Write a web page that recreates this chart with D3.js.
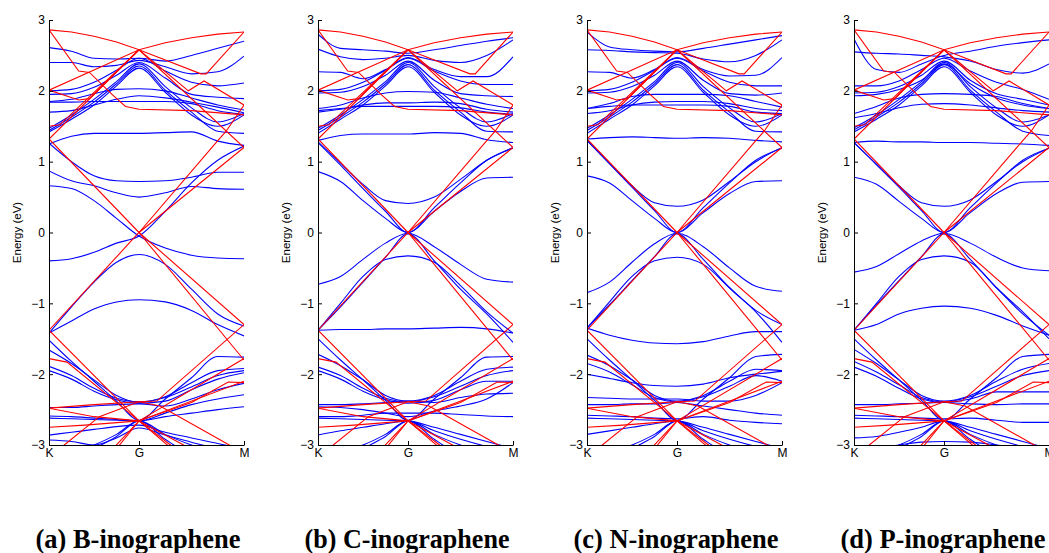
<!DOCTYPE html>
<html lang="en">
<head>
<meta charset="UTF-8">
<title>Inographene band structures</title>
<script src="https://d3js.org/d3.v7.min.js"></script>
<style>
    body { margin: 0; background: #fff; }
    .tick text { font-family: "Liberation Sans", Arial, sans-serif; font-size: 12px; fill: #000; }
    .ylabel { font-family: "Liberation Sans", Arial, sans-serif; font-size: 11.5px; }
    .caption { font-family: "Liberation Serif", "Times New Roman", serif; font-weight: bold; font-size: 27px; }
</style>
</head>
<body>
<svg id="chart" width="1049" height="553"></svg>
<script>
// k path: K = 0, G = 1, M = 2 ; every blue band is sampled on this grid
var kGrid = [0, 0.25, 0.5, 0.75, 1, 1.25, 1.5, 1.75, 2];
var kLabels = ["K", "G", "M"];
var yTicks = [-3, -2, -1, 0, 1, 2, 3];
var captions = ["(a) B-inographene", "(b) C-inographene", "(c) N-inographene", "(d) P-inographene"];

// graphene reference bands (red), [k, E] vertices, same in every panel
var redBands = [
    [[0,2.86],[0.25,2.83],[0.5,2.77],[0.75,2.69],[1,2.58],[1.25,2.68],[1.5,2.75],[1.75,2.80],[2,2.83]],
    [[0,2.86],[0.33,2.28],[0.45,2.26],[0.7,1.95],[0.85,1.78],[1,1.74],[1.5,1.72],[2,1.66]],
    [[0,2.01],[1,2.58],[1.59,2.24],[1.64,2.24],[2,2.83]],
    [[0,2.01],[0.33,1.87],[0.45,1.89],[1,2.58],[1.47,2.0],[1.62,2.14],[2,1.8]],
    [[0,1.5],[0.12,1.52],[1,2.58],[2,1.2]],
    [[0,1.32],[1,2.58]],
    [[0,1.32],[1,0],[2,-1.3]],
    [[0,-1.38],[1,0],[2,1.2]],
    [[1,0],[1.74,1.28],[1.83,1.43],[2,1.8]],
    [[1,0],[2,-1.8]],
    [[0,-1.38],[1,-2.66],[2,-1.78]],
    [[0,-1.78],[0.2,-1.83],[1,-2.66],[2,-2.1]],
    [[0,-2.48],[0.5,-2.43],[1,-2.39],[1.17,-2.38],[2,-1.3]],
    [[0,-2.48],[0.5,-2.6],[1,-2.66],[1.5,-2.4],[1.85,-2.11],[2,-2.12]],
    [[0,-2.75],[0.4,-2.72],[1,-2.66],[1.3,-3.0],[1.4,-3.15]],
    [[0,-3.2],[0.17,-3.0],[0.56,-2.6],[1,-2.39],[1.2,-2.45],[1.86,-3.0],[2,-3.1]],
    [[0.6,-3.2],[1,-2.66],[1.55,-3.1]],
    [[0.72,-3.1],[1,-2.66],[1.35,-3.1]]
];

// inographene bands (blue), energies on kGrid
var bandsB = [
    [2.61, 2.56, 2.46, 2.45, 2.46, 2.42, 2.50, 2.60, 2.70],
    [2.40, 2.40, 2.34, 2.36, 2.43, 2.34, 2.24, 2.27, 2.49],
    [2.00, 2.02, 2.12, 2.29, 2.46, 2.28, 2.12, 2.07, 2.11],
    [1.95, 1.96, 2.05, 2.22, 2.40, 2.18, 1.95, 1.91, 1.89],
    [1.85, 1.88, 1.96, 2.02, 2.03, 2.00, 1.90, 1.80, 1.73],
    [1.70, 1.72, 1.80, 1.88, 1.93, 1.90, 1.84, 1.77, 1.69],
    [1.84, 1.84, 1.85, 1.85, 1.85, 1.85, 1.82, 1.72, 1.67],
    [1.47, 1.66, 1.88, 2.13, 2.38, 2.06, 1.76, 1.56, 1.68],
    [1.44, 1.63, 1.84, 2.10, 2.35, 2.01, 1.70, 1.43, 1.40],
    [1.42, 1.60, 1.80, 2.07, 2.32, 1.98, 1.66, 1.50, 1.66],
    [1.25, 1.36, 1.40, 1.40, 1.40, 1.41, 1.42, 1.29, 1.23],
    [1.26, 1.00, 0.80, 0.73, 0.72, 0.73, 0.78, 0.85, 0.85],
    [0.87, 0.73, 0.66, 0.56, 0.50, 0.56, 0.65, 0.62, 0.61],
    [0.66, 0.62, 0.45, 0.20, -0.05, -0.22, -0.32, -0.36, -0.37],
    [-0.40, -0.37, -0.28, -0.15, -0.05, 0.30, 0.70, 1.02, 1.22],
    [-1.42, -1.05, -0.70, -0.42, -0.31, -0.45, -0.80, -1.15, -1.32],
    [-1.42, -1.25, -1.08, -0.98, -0.95, -0.98, -1.10, -1.30, -1.46],
    [-1.52, -1.82, -2.10, -2.38, -2.65, -2.35, -2.05, -1.75, -1.76],
    [-1.66, -1.85, -2.08, -2.30, -2.40, -2.32, -2.12, -1.95, -1.92],
    [-1.89, -2.02, -2.20, -2.34, -2.39, -2.33, -2.18, -2.02, -1.95],
    [-1.95, -2.07, -2.24, -2.36, -2.41, -2.38, -2.22, -2.07, -1.98],
    [-2.47, -2.47, -2.45, -2.43, -2.42, -2.45, -2.35, -2.22, -2.13],
    [-2.59, -2.60, -2.62, -2.64, -2.66, -2.55, -2.43, -2.35, -2.29],
    [-2.62, -2.63, -2.64, -2.65, -2.66, -2.60, -2.55, -2.50, -2.46],
    [-2.86, -2.82, -2.78, -2.74, -2.72, -2.82, -2.90, -2.98, -3.05],
    [-2.93, -2.95, -3.00, -2.90, -2.76, -2.86, -2.96, -3.05, -3.10],
    [-3.20, -3.10, -3.00, -2.85, -2.66, -2.85, -3.00, -3.10, -3.20],
    [-3.40, -3.20, -3.05, -2.88, -2.66, -2.92, -3.15, -3.30, -3.40]
];

var bandsC = [
    [2.80, 2.60, 2.58, 2.56, 2.53, 2.58, 2.64, 2.70, 2.75],
    [2.59, 2.48, 2.44, 2.46, 2.50, 2.43, 2.40, 2.50, 2.72],
    [2.27, 2.26, 2.17, 2.30, 2.47, 2.30, 2.20, 2.20, 2.48],
    [2.00, 2.02, 2.12, 2.29, 2.46, 2.28, 2.14, 2.09, 2.09],
    [1.97, 1.98, 2.06, 2.22, 2.42, 2.15, 1.96, 1.93, 1.92],
    [1.75, 1.80, 1.90, 1.97, 1.99, 1.98, 1.90, 1.81, 1.75],
    [1.70, 1.74, 1.80, 1.83, 1.83, 1.84, 1.82, 1.74, 1.70],
    [1.72, 1.75, 1.78, 1.78, 1.78, 1.78, 1.76, 1.70, 1.67],
    [1.47, 1.66, 1.88, 2.13, 2.40, 2.06, 1.76, 1.56, 1.68],
    [1.44, 1.63, 1.84, 2.10, 2.37, 2.01, 1.70, 1.43, 1.42],
    [1.40, 1.60, 1.80, 2.07, 2.34, 1.98, 1.66, 1.50, 1.66],
    [1.30, 1.37, 1.39, 1.39, 1.39, 1.41, 1.40, 1.31, 1.27],
    [1.28, 0.98, 0.68, 0.45, 0.41, 0.50, 0.75, 1.02, 1.20],
    [0.86, 0.72, 0.45, 0.20, 0.00, 0.30, 0.58, 0.77, 0.78],
    [1.27, 0.95, 0.62, 0.30, 0.00, 0.35, 0.70, 1.02, 1.19],
    [-0.73, -0.62, -0.38, -0.15, -0.01, -0.20, -0.45, -0.66, -0.70],
    [-1.38, -1.00, -0.62, -0.38, -0.33, -0.42, -0.75, -1.12, -1.42],
    [-1.38, -1.37, -1.37, -1.36, -1.36, -1.35, -1.34, -1.36, -1.42],
    [-1.38, -1.05, -0.70, -0.35, -0.02, -0.40, -0.80, -1.15, -1.55],
    [-1.50, -1.80, -2.08, -2.37, -2.65, -2.35, -2.05, -1.76, -1.75],
    [-1.72, -1.88, -2.08, -2.30, -2.38, -2.30, -2.10, -1.93, -1.90],
    [-1.90, -2.02, -2.20, -2.34, -2.39, -2.32, -2.17, -2.02, -1.95],
    [-1.95, -2.07, -2.24, -2.36, -2.41, -2.37, -2.22, -2.10, -2.10],
    [-2.43, -2.43, -2.42, -2.40, -2.38, -2.40, -2.33, -2.28, -2.27],
    [-2.46, -2.47, -2.50, -2.55, -2.60, -2.52, -2.45, -2.35, -2.12],
    [-2.60, -2.60, -2.58, -2.55, -2.55, -2.55, -2.57, -2.59, -2.60],
    [-2.62, -2.63, -2.64, -2.65, -2.66, -2.75, -2.85, -2.95, -3.05],
    [-2.86, -2.80, -2.75, -2.70, -2.66, -2.80, -2.92, -3.02, -3.10],
    [-3.20, -3.10, -3.00, -2.85, -2.66, -2.85, -3.00, -3.10, -3.20],
    [-3.40, -3.20, -3.05, -2.88, -2.66, -2.92, -3.15, -3.30, -3.40]
];

var bandsN = [
    [2.83, 2.62, 2.58, 2.56, 2.55, 2.60, 2.66, 2.72, 2.78],
    [2.58, 2.57, 2.55, 2.54, 2.53, 2.45, 2.41, 2.50, 2.72],
    [2.27, 2.26, 2.18, 2.30, 2.47, 2.30, 2.21, 2.22, 2.47],
    [2.00, 2.02, 2.12, 2.29, 2.46, 2.28, 2.12, 2.07, 2.07],
    [1.97, 1.98, 2.06, 2.22, 2.42, 2.15, 1.96, 1.94, 1.97],
    [1.75, 1.82, 1.92, 1.95, 1.95, 1.95, 1.93, 1.85, 1.77],
    [1.68, 1.72, 1.80, 1.84, 1.85, 1.85, 1.82, 1.75, 1.72],
    [1.75, 1.78, 1.80, 1.80, 1.80, 1.80, 1.78, 1.70, 1.68],
    [1.47, 1.66, 1.88, 2.13, 2.40, 2.06, 1.76, 1.56, 1.68],
    [1.44, 1.63, 1.84, 2.10, 2.37, 2.01, 1.70, 1.43, 1.42],
    [1.40, 1.60, 1.80, 2.07, 2.34, 1.98, 1.66, 1.50, 1.66],
    [1.32, 1.34, 1.35, 1.34, 1.33, 1.34, 1.33, 1.30, 1.28],
    [1.30, 0.98, 0.66, 0.42, 0.37, 0.46, 0.72, 1.00, 1.20],
    [0.80, 0.70, 0.45, 0.20, 0.00, 0.28, 0.55, 0.72, 0.73],
    [1.30, 0.97, 0.64, 0.31, 0.00, 0.35, 0.70, 1.02, 1.19],
    [-0.85, -0.70, -0.42, -0.16, -0.01, -0.20, -0.50, -0.76, -0.83],
    [-1.35, -0.98, -0.62, -0.40, -0.35, -0.45, -0.78, -1.10, -1.30],
    [-1.35, -1.45, -1.52, -1.56, -1.57, -1.54, -1.46, -1.40, -1.40],
    [-1.35, -1.02, -0.68, -0.34, -0.02, -0.38, -0.78, -1.12, -1.55],
    [-1.50, -1.80, -2.08, -2.37, -2.65, -2.35, -2.05, -1.75, -1.72],
    [-1.73, -1.88, -2.08, -2.30, -2.38, -2.30, -2.10, -1.93, -1.95],
    [-1.85, -1.97, -2.15, -2.33, -2.39, -2.32, -2.17, -2.02, -2.10],
    [-2.00, -2.06, -2.12, -2.16, -2.17, -2.14, -2.05, -2.00, -1.96],
    [-2.33, -2.34, -2.35, -2.35, -2.35, -2.38, -2.38, -2.30, -2.12],
    [-2.43, -2.43, -2.42, -2.42, -2.40, -2.45, -2.50, -2.55, -2.58],
    [-2.58, -2.59, -2.60, -2.62, -2.63, -2.60, -2.65, -2.68, -2.70],
    [-2.62, -2.63, -2.64, -2.65, -2.66, -2.75, -2.85, -2.95, -3.05],
    [-2.85, -2.80, -2.75, -2.70, -2.66, -2.80, -2.92, -3.02, -3.10],
    [-3.20, -3.10, -3.00, -2.85, -2.66, -2.85, -3.00, -3.10, -3.20],
    [-3.40, -3.20, -3.05, -2.88, -2.66, -2.92, -3.15, -3.30, -3.40]
];

var bandsP = [
    [2.73, 2.30, 2.26, 2.38, 2.50, 2.56, 2.63, 2.68, 2.72],
    [2.55, 2.53, 2.52, 2.50, 2.48, 2.42, 2.30, 2.25, 2.38],
    [2.07, 2.07, 2.14, 2.30, 2.46, 2.28, 2.12, 2.02, 1.88],
    [1.97, 1.98, 2.06, 2.22, 2.42, 2.15, 1.96, 1.88, 1.80],
    [1.93, 1.95, 2.02, 2.15, 2.38, 2.10, 1.90, 1.80, 1.75],
    [1.68, 1.78, 1.90, 1.95, 1.96, 1.95, 1.92, 1.82, 1.75],
    [1.62, 1.68, 1.76, 1.81, 1.82, 1.80, 1.76, 1.72, 1.70],
    [1.48, 1.66, 1.88, 2.13, 2.40, 2.06, 1.76, 1.56, 1.66],
    [1.45, 1.63, 1.84, 2.10, 2.37, 2.01, 1.70, 1.43, 1.37],
    [1.42, 1.60, 1.80, 2.07, 2.34, 1.98, 1.66, 1.50, 1.66],
    [1.27, 1.29, 1.28, 1.28, 1.27, 1.27, 1.26, 1.25, 1.23],
    [1.27, 0.96, 0.66, 0.42, 0.37, 0.46, 0.72, 1.00, 1.19],
    [0.78, 0.68, 0.44, 0.20, 0.00, 0.28, 0.55, 0.71, 0.72],
    [1.27, 0.96, 0.64, 0.31, 0.00, 0.35, 0.70, 1.02, 1.19],
    [-0.56, -0.48, -0.30, -0.12, -0.01, -0.15, -0.35, -0.50, -0.54],
    [-1.38, -1.00, -0.62, -0.38, -0.33, -0.42, -0.78, -1.15, -1.45],
    [-1.38, -1.30, -1.15, -1.07, -1.04, -1.07, -1.17, -1.32, -1.45],
    [-1.38, -1.02, -0.68, -0.34, -0.02, -0.38, -0.78, -1.12, -1.50],
    [-1.50, -1.80, -2.08, -2.37, -2.65, -2.35, -2.05, -1.75, -1.72],
    [-1.65, -1.85, -2.08, -2.30, -2.38, -2.30, -2.10, -1.93, -1.85],
    [-1.82, -1.97, -2.15, -2.33, -2.39, -2.32, -2.17, -2.02, -1.95],
    [-1.90, -2.03, -2.20, -2.35, -2.40, -2.35, -2.25, -2.25, -2.25],
    [-2.43, -2.43, -2.42, -2.41, -2.40, -2.42, -2.43, -2.42, -2.42],
    [-2.58, -2.59, -2.60, -2.62, -2.63, -2.62, -2.65, -2.68, -2.68],
    [-2.62, -2.63, -2.64, -2.65, -2.66, -2.75, -2.85, -2.95, -3.05],
    [-2.90, -2.88, -2.82, -2.75, -2.66, -2.80, -2.92, -3.02, -3.10],
    [-3.10, -3.05, -3.00, -2.96, -2.95, -2.96, -3.00, -3.05, -3.10],
    [-3.20, -3.10, -3.00, -2.85, -2.66, -2.85, -3.00, -3.10, -3.20],
    [-3.40, -3.20, -3.05, -2.88, -2.66, -2.92, -3.15, -3.30, -3.40]
];

var panelBands = [bandsB, bandsC, bandsN, bandsP];
var panelLeft = [49, 318, 587, 854];
var plotTop = 20, plotH = 425, plotW = 195;

var svg = d3.select("#chart");

var x = d3.scaleLinear().domain([0, 1, 2]).range([0, 90, plotW]);
var y = d3.scaleLinear().domain([-3, 3]).range([plotH, 0]);

var blueLine = d3.line()
    .x(function(d, i) { return x(kGrid[i]); })
    .y(function(d) { return y(d); })
    .curve(d3.curveMonotoneX);

var redLine = d3.line()
    .x(function(d) { return x(d[0]); })
    .y(function(d) { return y(d[1]); });

panelBands.forEach(function(bands, p) {
    var g = svg.append("g")
        .attr("transform", "translate(" + panelLeft[p] + "," + plotTop + ")");

    // clip to the plot box
    g.append("clipPath").attr("id", "clip" + p)
        .append("rect").attr("x", 0).attr("y", 0).attr("width", plotW).attr("height", plotH);

    var plot = g.append("g").attr("clip-path", "url(#clip" + p + ")");

    plot.selectAll(".blue")
        .data(bands)
        .enter().append("path")
        .attr("class", "blue")
        .attr("d", blueLine)
        .attr("fill", "none")
        .attr("stroke", "#0000ff")
        .attr("stroke-width", 1.1);

    plot.selectAll(".red")
        .data(redBands)
        .enter().append("path")
        .attr("class", "red")
        .attr("d", redLine)
        .attr("fill", "none")
        .attr("stroke", "#ff0000")
        .attr("stroke-width", 1.1);

    // y axis, ticks inside
    var ya = g.append("g")
        .call(d3.axisLeft(y).tickValues(yTicks).tickFormat(d3.format("d"))
            .tickSizeInner(-4).tickSizeOuter(0).tickPadding(4));
    ya.attr("font-size", null).attr("font-family", null);

    // x axis
    var xa = g.append("g")
        .attr("transform", "translate(0," + plotH + ")")
        .call(d3.axisBottom(x).tickValues([0, 1, 2])
            .tickFormat(function(d, i) { return kLabels[i]; })
            .tickSizeInner(-4).tickSizeOuter(0).tickPadding(3));
    xa.attr("font-size", null).attr("font-family", null);

    // y label
    g.append("text")
        .attr("class", "ylabel")
        .attr("transform", "translate(-28," + (plotH / 2) + ") rotate(-90)")
        .attr("text-anchor", "middle")
        .text("Energy (eV)");

    // caption
    svg.append("text")
        .attr("class", "caption")
        .attr("x", panelLeft[p] + 89)
        .attr("y", 548)
        .attr("text-anchor", "middle")
        .attr("textLength", 205)
        .attr("lengthAdjust", "spacingAndGlyphs")
        .text(captions[p]);
});
</script>
</body>
</html>
